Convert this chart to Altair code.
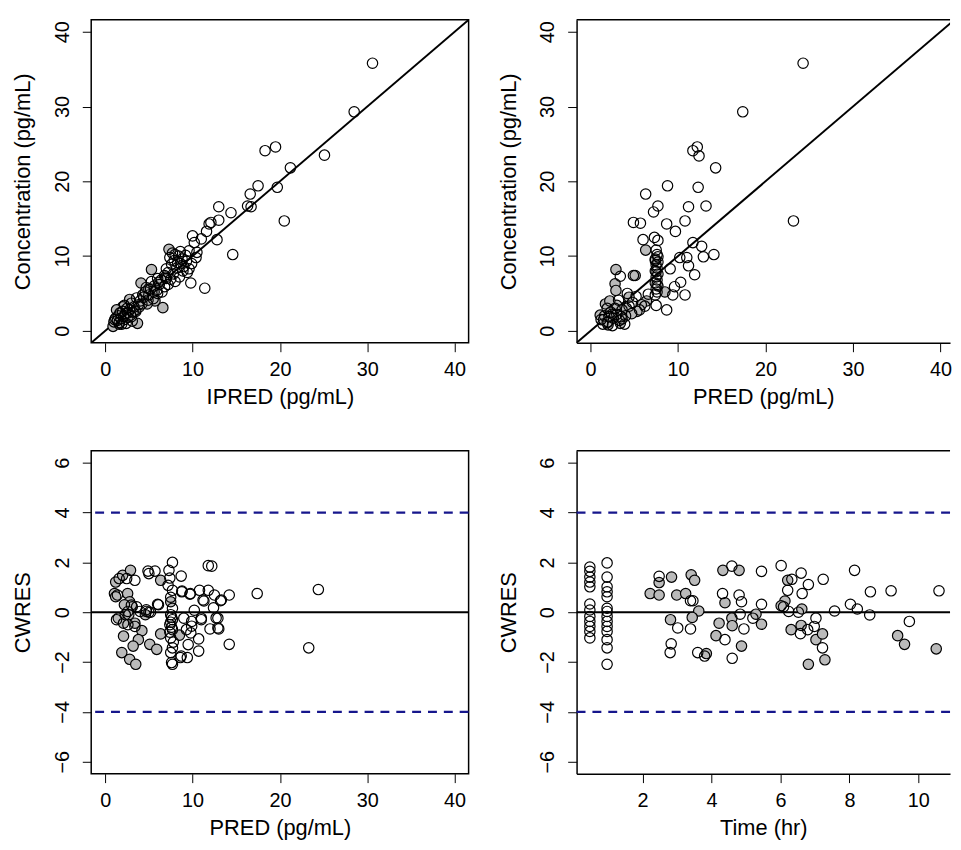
import altair as alt
import pandas as pd

FONT = "Liberation Sans"
W_L, W_R, H = 381, 377, 326
GRAY = "#bababa"
NAVY = "#16168c"

# ---------- Panel A: Concentration vs IPRED ----------
a_open_ipred = [30.6, 28.5, 25.1, 21.2, 19.5, 18.3, 19.7, 20.5, 17.5, 16.6, 16.3, 16.7, 13.0, 14.4, 13.0,
                12.1, 11.9, 12.8, 11.6, 11.0, 10.0, 10.2, 14.6, 10.4, 11.4, 9.8, 9.6,
                8.0, 8.4, 8.8, 9.2, 8.6, 9.0, 8.2, 7.6, 7.8, 8.5, 9.3, 7.2, 7.0, 6.8, 7.5, 8.0, 6.4, 6.2,
                6.8, 7.2, 8.9, 9.4, 7.9, 8.3, 9.9, 10.5, 7.4, 7.7, 8.6, 9.6, 7.0,
                5.6, 5.9, 5.2, 6.5, 5.0, 4.6, 4.4, 4.9, 4.0, 3.6, 3.8, 3.3, 3.0, 5.5, 6.0, 4.2, 3.5, 4.7,
                5.3, 6.0,
                2.8, 3.2, 2.5, 2.3, 2.0, 2.1, 1.8, 1.5, 1.4, 1.2, 1.6, 2.6, 2.9, 1.9, 2.4, 1.0, 2.2, 1.7, 3.1]
a_open_conc = [35.8, 29.3, 23.5, 21.8, 24.6, 24.1, 19.2, 14.7, 19.4, 18.3, 16.7, 16.6, 16.6, 15.8, 14.8,
               14.5, 14.3, 12.2, 13.3, 12.3, 12.7, 11.8, 10.2, 9.8, 5.7, 6.4, 8.3,
               10.2, 10.0, 9.6, 10.1, 9.0, 8.6, 8.4, 8.9, 7.6, 7.2, 9.3, 7.8, 7.0, 7.4, 6.9, 6.6, 6.8, 6.2,
               5.9, 6.2, 8.0, 7.8, 9.4, 9.1, 9.0, 10.5, 9.8, 10.4, 10.6, 10.7, 8.3,
               6.0, 5.4, 5.6, 5.2, 4.8, 5.2, 4.5, 4.1, 4.0, 4.4, 3.5, 3.2, 3.7, 4.3, 5.0, 3.6, 2.6, 5.8,
               6.6, 7.0,
               2.8, 2.5, 3.0, 2.3, 2.6, 1.9, 1.6, 2.0, 1.4, 1.7, 1.1, 1.8, 2.1, 0.9, 1.0, 1.2, 3.4, 2.4, 1.3]
a_gray_ipred = [7.3, 5.3, 4.1, 2.8, 5.7, 6.6, 3.7, 0.9, 2.0, 1.3, 3.5, 4.3, 2.2, 1.6, 3.0, 4.8, 6.1, 5.0,
                2.6, 1.1, 3.9, 6.9, 5.6]
a_gray_conc = [10.9, 8.2, 6.4, 4.2, 4.0, 3.1, 1.0, 0.6, 3.2, 2.8, 2.8, 4.8, 1.5, 0.9, 1.9, 3.6, 6.5, 5.6,
               2.4, 1.5, 3.2, 7.2, 5.2]

# ---------- Panel B: Concentration vs PRED ----------
b_open_pred = [24.3, 17.4, 23.2, 12.2, 11.7, 12.4, 14.3, 8.8, 12.3, 6.3, 7.7, 7.2, 11.2, 13.2, 4.9, 5.7,
               8.7, 10.8, 9.7, 6.0, 7.3, 7.7, 11.7, 12.7, 14.1, 12.9, 11.0, 10.2, 11.2, 11.9, 10.3, 9.6,
               10.8, 9.4, 8.7, 7.5, 9.1, 3.4, 4.9,
               7.5, 7.6, 7.4, 7.7, 7.5, 7.6, 7.4, 7.7, 7.5, 7.6, 7.4, 7.7, 7.5, 7.6, 7.4, 7.7, 7.5, 7.6,
               1.2, 1.6, 2.0, 2.3, 2.6, 3.0, 3.3, 2.8, 3.6, 4.0, 4.4, 1.9, 2.5, 3.9, 4.8, 5.2, 3.2, 4.2,
               5.6, 1.4, 2.1, 3.5, 6.6, 6.2]
b_open_conc = [35.8, 29.3, 14.7, 24.6, 24.1, 23.4, 21.8, 19.4, 19.2, 18.3, 16.7, 15.9, 16.6, 16.7, 14.5,
               14.4, 14.3, 14.7, 13.3, 12.2, 12.5, 12.1, 11.8, 11.3, 10.2, 9.9, 9.8, 9.8, 8.7, 7.5, 6.5,
               5.9, 4.8, 4.8, 2.8, 3.4, 8.3, 7.3, 7.4,
               10.8, 10.2, 9.6, 9.2, 8.8, 8.4, 8.0, 7.6, 7.2, 6.8, 6.4, 6.0, 5.6, 5.2, 4.8, 9.9, 7.9, 6.2,
               1.5, 2.0, 1.2, 2.5, 1.7, 2.2, 1.4, 3.0, 2.8, 2.0, 3.3, 3.0, 0.7, 0.9, 3.8, 4.6, 4.1, 5.0,
               2.8, 0.9, 1.9, 1.9, 4.9, 3.3]
b_gray_pred = [6.3, 2.9, 5.1, 2.8, 8.5, 6.4, 5.8, 5.3, 4.1, 2.0, 3.4, 1.1, 1.7, 2.9, 4.4, 1.5, 2.4, 3.0,
               2.2, 3.6, 4.7, 1.9, 7.4]
b_gray_conc = [10.8, 8.2, 7.4, 6.3, 5.2, 4.0, 3.5, 2.6, 3.0, 0.8, 1.0, 2.1, 3.6, 5.4, 4.5, 1.5, 2.2, 3.4,
               4.0, 1.6, 2.3, 1.1, 9.4]

# ---------- Panel C: CWRES vs PRED ----------
c_open_pred = [24.4, 23.3, 17.4, 11.8, 12.2, 14.2, 14.2, 13.2, 12.4, 12.9, 13.0, 12.0, 11.8, 11.3, 10.8,
               11.0, 10.7, 10.7, 10.2, 9.9, 9.8, 9.4, 8.7, 9.75, 8.77, 8.7, 9.0, 9.3,
               7.7, 7.3, 7.4, 7.2, 7.7, 7.7, 7.5, 7.7, 7.4, 7.7, 7.5, 7.7, 7.5, 7.7, 7.5, 7.6, 7.5, 7.6,
               7.4, 7.8,
               6.0, 5.7, 4.9, 5.0, 5.0, 4.7, 3.4, 2.46, 1.6, 1.4, 2.6, 3.0, 3.6, 4.0, 4.7, 3.4, 2.3, 2.6,
               1.3, 8.8, 9.7, 12.5, 13.3, 11.2, 9.9, 11.0, 12.9, 12.7, 9.5, 8.6, 7.6, 6.1, 5.2]
c_open_cwres = [0.91, -1.43, 0.75, 1.87, 1.85, 0.69, -1.29, 0.46, 0.18, -0.24, -0.67, -0.67, 0.88, 0.45,
                0.88, -0.24, -1.07, -1.56, 0.08, -0.37, -0.83, -1.82, -1.76, 0.75, 0.82, 1.45, -0.24, -0.70,
                2.0, 1.68, 1.37, 1.08, 0.88, 0.16, -0.1, -0.3, -0.5, -0.7, -1.03, -1.43, -1.62, -2.09, 0.6,
                -0.2, -0.4, -0.6, -0.8, -1.2,
                0.32, 1.65, 1.65, 1.55, 0.0, 0.1, 1.28, 1.35, 1.35, 0.69, 0.03, 0.29, 0.22, 0.03, 0.03,
                -0.57, -0.1, -0.5, -0.3, 0.85, 0.72, 0.69, 0.49, 0.49, -0.56, -0.3, -0.63, -0.23, -1.3,
                -1.82, -2.02, 0.3, 0.0]
c_gray_pred = [1.2, 1.06, 2.0, 2.9, 2.57, 2.8, 1.5, 2.1, 3.4, 4.2, 3.8, 3.2, 2.1, 1.9, 2.8, 3.5, 5.1, 5.9,
               6.35, 6.35, 8.5, 3.1, 2.2, 4.6, 2.7, 1.2, 7.5]
c_gray_cwres = [1.21, 0.75, 1.48, 1.68, 0.75, 0.42, -0.24, -0.44, -0.44, -0.74, -1.1, -1.36, -0.96, -1.62,
                -1.89, -2.09, -1.29, -1.49, 1.28, -0.87, -0.92, 0.22, 0.3, -0.1, -0.1, 0.62, 0.42]

# ---------- Panel D: CWRES vs Time ----------
d_open_time = [0.47, 0.47, 0.47, 0.47, 0.47, 0.47, 0.47, 0.47, 0.47, 0.47, 0.47, 0.47,
               0.97, 0.97, 0.97, 0.97, 0.97, 0.97, 0.97, 0.97, 0.97, 0.97, 0.97, 0.97, 0.97, 0.97,
               2.48, 3.02, 2.83, 2.8, 3.39, 3.46, 3.39, 3.6, 3.8, 4.59, 4.32, 4.8, 4.87, 4.83, 4.94, 4.39,
               4.6, 5.45, 5.45, 5.2, 6.02, 6.33, 6.21, 6.09, 6.24, 6.6, 6.81, 6.63, 6.52, 6.58, 6.79, 7.03,
               6.98, 7.22, 7.24, 7.57, 8.03, 8.23, 8.15, 8.61, 8.59, 9.21, 9.74, 10.6]
d_open_cwres = [1.81, 1.64, 1.41, 1.21, 1.02, 0.33, 0.09, -0.17, -0.37, -0.57, -0.77, -1.03,
                1.98, 1.41, 1.02, 0.82, 0.62, 0.16, 0.03, -0.17, -0.37, -0.57, -0.77, -1.1, -1.43, -2.09,
                1.44, -0.63, -1.27, -1.62, 0.46, 0.46, -0.67, -1.62, -1.76, 1.85, 0.75, 0.69, 0.42, -0.08,
                -0.67, -1.1, -1.85, 1.64, 0.32, -0.24, 1.87, 1.32, 0.88, 0.22, 0.03, 1.57, 1.11, 0.75, 0.0,
                -0.86, -0.70, -0.24, -0.57, -1.43, 1.32, 0.05, 0.32, 0.13, 1.68, 0.82, -0.11, 0.86, -0.37,
                0.86]
d_gray_time = [2.22, 2.48, 2.48, 2.84, 2.81, 2.99, 3.25, 3.41, 3.51, 3.63, 3.44, 3.85, 4.33, 4.8, 4.39,
               4.22, 4.59, 4.6, 4.13, 4.87, 5.29, 5.45, 6.21, 6.13, 6.02, 6.62, 6.31, 6.6, 7.03, 7.22,
               6.81, 7.29, 9.4, 9.6, 10.52]
d_gray_cwres = [0.75, 0.69, 1.19, 1.41, -0.30, 0.69, 0.75, 1.5, 1.28, 0.05, -0.21, -1.66, 1.68, 1.68,
                0.38, -0.44, -0.24, -0.54, -0.94, -1.36, -0.08, -0.48, 1.28, 0.45, 0.26, 0.13, -0.7, -0.53,
                -1.1, -0.87, -2.09, -1.91, -0.94, -1.29, -1.47]

conc_ticks = [0, 10, 20, 30, 40]
cwres_ticks = [-6, -4, -2, 0, 2, 4, 6]
time_ticks = [2, 4, 6, 8, 10]
cwres_ref = [0]
cwres_bounds = [-4, 4]
identity = [-5, 50]


def xaxis(title, ticks, domain):
    return alt.Axis(title=title, values=ticks, labelPadding=8, titlePadding=7, domain=domain,
                    domainColor="black", domainWidth=1.5)


def yaxis(title, ticks, domain):
    return alt.Axis(title=title, values=ticks, labelAngle=-90, labelAlign="center",
                    labelBaseline="bottom", labelPadding=10, titlePadding=18, domain=domain,
                    domainColor="black", domainWidth=1.5)


def panel(xo, yo, xg, yg, xdom, ydom, xticks, yticks, xtitle, ytitle, width, cut, kind):
    xs = alt.Scale(domain=xdom, nice=False, zero=False)
    ys = alt.Scale(domain=ydom, nice=False, zero=False)
    X = alt.X("x:Q", scale=xs, axis=xaxis(xtitle, xticks, cut))
    Y = alt.Y("y:Q", scale=ys, axis=yaxis(ytitle, yticks, cut))
    layers = []
    if kind == "conc":
        line = alt.Chart(pd.DataFrame({"x": identity, "y": identity})).mark_line(
            color="black", strokeWidth=2, clip=True).encode(x=X, y=Y)
        layers.append(line)
    else:
        dash = alt.Chart(pd.DataFrame({"y": cwres_bounds})).mark_rule(
            color=NAVY, strokeWidth=2.2, strokeDash=[9, 7]).encode(y=Y)
        zero = alt.Chart(pd.DataFrame({"y": cwres_ref})).mark_rule(
            color="black", strokeWidth=2).encode(y=Y)
        layers += [dash, zero]
    gray = alt.Chart(pd.DataFrame({"x": xg, "y": yg})).mark_point(
        shape="circle", size=110, filled=True, fill=GRAY, stroke="black", strokeWidth=1.2,
        opacity=1).encode(x=X, y=Y)
    opn = alt.Chart(pd.DataFrame({"x": xo, "y": yo})).mark_point(
        shape="circle", size=110, filled=False, stroke="black", strokeWidth=1.2,
        opacity=1).encode(x=X, y=Y)
    layers += [gray, opn]
    if cut:
        top = alt.Chart(pd.DataFrame({"k": [0]})).mark_rule(color="black", strokeWidth=1.5).encode(
            x=alt.value(0), x2=alt.value(width), y=alt.value(0))
        layers.append(top)
    ch = alt.layer(*layers).properties(width=width, height=H)
    if cut:
        ch = ch.properties(view=alt.ViewBackground(stroke="transparent"))
    return ch


pA = panel(a_open_ipred, a_open_conc, a_gray_ipred, a_gray_conc, [-1.6, 41.6], [-1.6, 41.6],
           conc_ticks, conc_ticks, "IPRED (pg/mL)", "Concentration (pg/mL)", W_L, False, "conc")
pB = panel(b_open_pred, b_open_conc, b_gray_pred, b_gray_conc, [-1.6, 41.1], [-1.6, 41.6],
           conc_ticks, conc_ticks, "PRED (pg/mL)", "Concentration (pg/mL)", W_R, True, "conc")
pC = panel(c_open_pred, c_open_cwres, c_gray_pred, c_gray_cwres, [-1.6, 41.6], [-6.48, 6.48],
           conc_ticks, cwres_ticks, "PRED (pg/mL)", "CWRES", W_L, False, "cwres")
pD = panel(d_open_time, d_open_cwres, d_gray_time, d_gray_cwres, [0.085, 10.92], [-6.48, 6.48],
           time_ticks, cwres_ticks, "Time (hr)", "CWRES", W_R, True, "cwres")

chart = alt.concat(pA, pB, pC, pD, columns=2, spacing=109, bounds="flush").properties(
    padding={"left": 3, "top": 6, "right": 0, "bottom": 0}, background="white"
).configure_view(stroke="black", strokeWidth=1.5).configure_axis(
    labelFont=FONT, titleFont=FONT, labelFontSize=20, titleFontSize=22, labelColor="black",
    titleColor="black", titleFontWeight="normal", tickColor="black", tickSize=9, tickWidth=1,
    grid=False
)

chart.save("out.html", embed_options={"renderer": "svg", "actions": False})
